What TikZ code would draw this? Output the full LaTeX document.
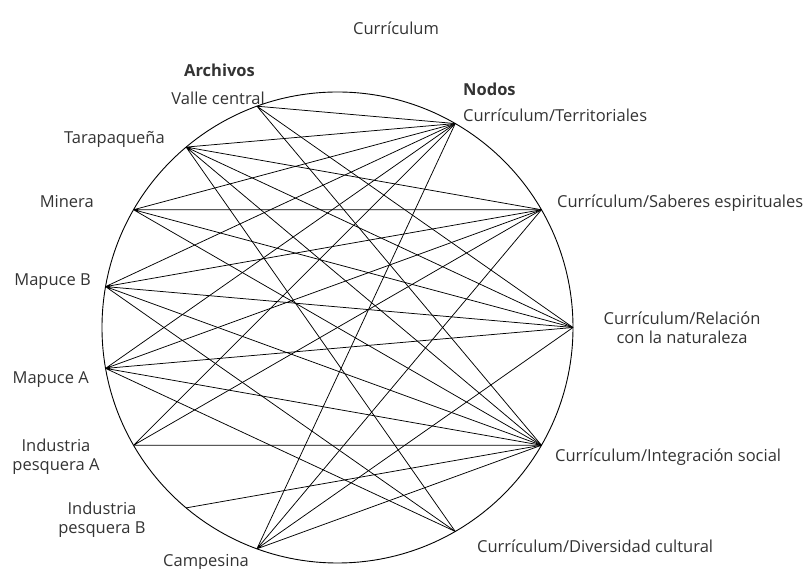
\documentclass[tikz,border=0pt]{standalone}
\usepackage{fontspec}
\setmainfont{Open Sans}
\usepackage{tikz}

\begin{document}
\begin{tikzpicture}[x=1pt, y=1pt, font=\fontsize{16.5}{19}\selectfont,
  etiqueta/.style={inner sep=0pt, text=black!80},
  titulo/.style={etiqueta, font=\fontsize{16.5}{19}\selectfont\bfseries},
  enlace/.style={line width=.75pt}]
	\useasboundingbox (-337.5,-241.5) rectangle (469.5,327.5);
	\draw[line width=.9pt] (0,0) circle (235.5);
	% archivos
	\coordinate (valle) at (110:235.5);
	\coordinate (tarapaq) at (130:235.5);
	\coordinate (minera) at (150:235.5);
	\coordinate (mapuceB) at (170:235.5);
	\coordinate (mapuceA) at (190:235.5);
	\coordinate (pesqA) at (210:235.5);
	\coordinate (pesqB) at (230:235.5);
	\coordinate (campes) at (250:235.5);
	% nodos
	\coordinate (territ) at (60:235.5);
	\coordinate (saberes) at (30:235.5);
	\coordinate (relac) at (0:235.5);
	\coordinate (integ) at (-30:235.5);
	\coordinate (divers) at (-60:235.5);
	% textos
	\node[etiqueta] (tit) at (58.5,299.5) {Currículum};
	\node[titulo] (tarch) at (-118,257.5) {Archivos};
	\node[titulo, anchor=west] (tnod) at (125.5,238.5) {Nodos};
	\node[etiqueta, anchor=east] (lvalle) at (-72.5,229.5) {Valle central};
	\node[etiqueta, anchor=east] (ltarapaq) at (-172.5,188.5) {Tarapaqueña};
	\node[etiqueta, anchor=east] (lminera) at (-243.5,125.5) {Minera};
	\node[etiqueta, anchor=east] (lmapuceB) at (-246.5,45.5) {Mapuce B};
	\node[etiqueta, anchor=east] (lmapuceA) at (-248.5,-52.5) {Mapuce A};
	\node[etiqueta, align=center] (lpesqA) at (-281.5,-129.5) {Industria\\pesquera A};
	\node[etiqueta, align=center] (lpesqB) at (-235.5,-192) {Industria\\pesquera B};
	\node[etiqueta] (lcampes) at (-131.5,-234.5) {Campesina};
	\node[etiqueta, anchor=west] (lterrit) at (125.5,212.5) {Currículum/Territoriales};
	\node[etiqueta, anchor=west] (lsaberes) at (219.5,124.5) {Currículum/Saberes espirituales};
	\node[etiqueta, align=center] (lrelac) at (344.5,0) {Currículum/Relación\\con la naturaleza};
	\node[etiqueta, anchor=west] (linteg) at (217.5,-129.5) {Currículum/Integración social};
	\node[etiqueta, anchor=west] (ldivers) at (139.5,-218.5) {Currículum/Diversidad cultural};
	% enlaces
	\draw[enlace] (valle) -- (territ) (valle) -- (relac) (valle) -- (integ);
	\draw[enlace] (tarapaq) -- (territ) (tarapaq) -- (saberes) (tarapaq) -- (relac)
	    (tarapaq) -- (integ) (tarapaq) -- (divers);
	\draw[enlace] (minera) -- (territ) (minera) -- (saberes) (minera) -- (relac)
	    (minera) -- (integ);
	\draw[enlace] (mapuceB) -- (territ) (mapuceB) -- (saberes) (mapuceB) -- (relac)
	    (mapuceB) -- (integ) (mapuceB) -- (divers);
	\draw[enlace] (mapuceA) -- (territ) (mapuceA) -- (saberes) (mapuceA) -- (relac)
	    (mapuceA) -- (integ) (mapuceA) -- (divers);
	\draw[enlace] (pesqA) -- (territ) (pesqA) -- (saberes) (pesqA) -- (integ);
	\draw[enlace] (pesqB) -- (integ);
	\draw[enlace] (campes) -- (territ) (campes) -- (saberes) (campes) -- (relac)
	    (campes) -- (integ);
	\end{tikzpicture}
\end{document}
